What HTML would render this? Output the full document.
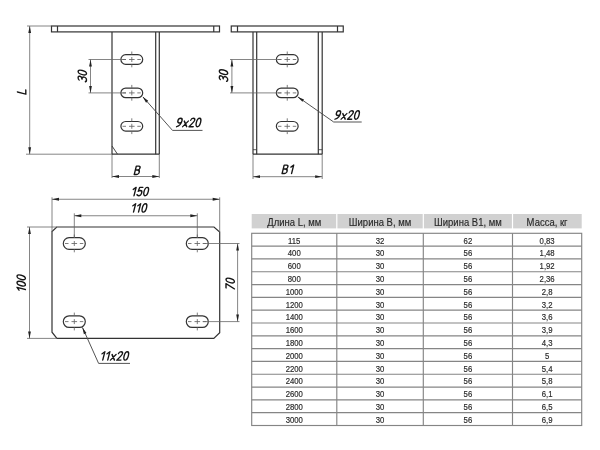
<!DOCTYPE html>
<html><head><meta charset="utf-8"><style>
html,body{margin:0;padding:0;background:#fff;width:600px;height:450px;overflow:hidden}
svg{display:block;font-family:"Liberation Sans",sans-serif;filter:blur(0.3px)}
</style></head><body>
<svg width="600" height="450" viewBox="0 0 600 450">
<g>
<rect x="51.5" y="26" width="168" height="5.9" rx="0" stroke="#333" stroke-width="1.2" fill="none"/>
<line x1="57.5" y1="26" x2="57.5" y2="31.9" stroke="#333" stroke-width="1.2" />
<line x1="213.75" y1="26" x2="213.75" y2="31.9" stroke="#333" stroke-width="1.2" />
<line x1="112" y1="31.9" x2="112" y2="154.2" stroke="#333" stroke-width="1.2" />
<line x1="112" y1="154.2" x2="112" y2="178" stroke="#666" stroke-width="0.8" />
<line x1="155.7" y1="31.9" x2="155.7" y2="154.2" stroke="#333" stroke-width="1.2" />
<line x1="159.3" y1="31.9" x2="159.3" y2="154.2" stroke="#333" stroke-width="1.2" />
<line x1="159.3" y1="154.2" x2="159.3" y2="178" stroke="#666" stroke-width="0.8" />
<line x1="112" y1="154.2" x2="159.3" y2="154.2" stroke="#333" stroke-width="1.2" />
<line x1="112" y1="146" x2="117.5" y2="154.2" stroke="#333" stroke-width="0.9" />
<rect x="120.9" y="54.7" width="21.8" height="9.6" rx="4.8" stroke="#333" stroke-width="1.2" fill="none"/>
<line x1="122.5" y1="59.5" x2="126" y2="59.5" stroke="#666" stroke-width="0.85" />
<line x1="137.3" y1="59.5" x2="140.8" y2="59.5" stroke="#666" stroke-width="0.85" />
<line x1="129" y1="59.5" x2="134.6" y2="59.5" stroke="#666" stroke-width="0.85" />
<line x1="131.8" y1="57" x2="131.8" y2="62" stroke="#666" stroke-width="0.85" />
<line x1="131.8" y1="51.5" x2="131.8" y2="54.7" stroke="#666" stroke-width="0.85" />
<line x1="131.8" y1="64.3" x2="131.8" y2="67.3" stroke="#666" stroke-width="0.85" />
<rect x="120.9" y="88.1" width="21.8" height="9.6" rx="4.8" stroke="#333" stroke-width="1.2" fill="none"/>
<line x1="122.5" y1="92.9" x2="126" y2="92.9" stroke="#666" stroke-width="0.85" />
<line x1="137.3" y1="92.9" x2="140.8" y2="92.9" stroke="#666" stroke-width="0.85" />
<line x1="129" y1="92.9" x2="134.6" y2="92.9" stroke="#666" stroke-width="0.85" />
<line x1="131.8" y1="90.4" x2="131.8" y2="95.4" stroke="#666" stroke-width="0.85" />
<line x1="131.8" y1="84.9" x2="131.8" y2="88.1" stroke="#666" stroke-width="0.85" />
<line x1="131.8" y1="97.7" x2="131.8" y2="100.7" stroke="#666" stroke-width="0.85" />
<rect x="120.9" y="121.5" width="21.8" height="9.6" rx="4.8" stroke="#333" stroke-width="1.2" fill="none"/>
<line x1="122.5" y1="126.3" x2="126" y2="126.3" stroke="#666" stroke-width="0.85" />
<line x1="137.3" y1="126.3" x2="140.8" y2="126.3" stroke="#666" stroke-width="0.85" />
<line x1="129" y1="126.3" x2="134.6" y2="126.3" stroke="#666" stroke-width="0.85" />
<line x1="131.8" y1="123.8" x2="131.8" y2="128.8" stroke="#666" stroke-width="0.85" />
<line x1="131.8" y1="118.3" x2="131.8" y2="121.5" stroke="#666" stroke-width="0.85" />
<line x1="131.8" y1="131.1" x2="131.8" y2="134.1" stroke="#666" stroke-width="0.85" />
<line x1="88.5" y1="59.5" x2="126" y2="59.5" stroke="#666" stroke-width="0.8" />
<line x1="88.5" y1="92.9" x2="126" y2="92.9" stroke="#666" stroke-width="0.8" />
<line x1="90.5" y1="59.5" x2="90.5" y2="92.9" stroke="#666" stroke-width="0.8" />
<path d="M90.50 59.50 L91.90 66.50 L89.10 66.50 Z" fill="#222"/>
<path d="M90.50 92.90 L89.10 85.90 L91.90 85.90 Z" fill="#222"/>
<g class="gt" transform="translate(82.3 75.7) rotate(-90) scale(1.0 1) translate(-6.30 4.20) skewX(-14.04)" fill="none" stroke="#151515" stroke-width="1.4" stroke-linecap="round" stroke-linejoin="round"><path transform="translate(0.00 0)" d="M0.2 -7.4 C0.5 -8 1.2 -8.4 2.1 -8.4 C3.3 -8.4 4.1 -7.7 4.1 -6.5 C4.1 -5.3 3.2 -4.6 1.7 -4.6 C3.3 -4.6 4.3 -3.6 4.3 -2.3 C4.3 -0.9 3.3 0 2 0 C1.1 0 0.4 -0.4 0 -1.1"/><path transform="translate(6.30 0)" d="M2.1 -8.4 C3.3 -8.4 4.2 -6.5 4.2 -4.2 C4.2 -1.9 3.3 0 2.1 0 C0.9 0 0 -1.9 0 -4.2 C0 -6.5 0.9 -8.4 2.1 -8.4 Z"/></g>
<line x1="27" y1="26" x2="51.5" y2="26" stroke="#666" stroke-width="0.8" />
<line x1="26" y1="154.2" x2="112" y2="154.2" stroke="#666" stroke-width="0.8" />
<line x1="29.7" y1="26" x2="29.7" y2="154.2" stroke="#666" stroke-width="0.8" />
<path d="M29.70 26.00 L31.10 33.00 L28.30 33.00 Z" fill="#222"/>
<path d="M29.70 154.20 L28.30 147.20 L31.10 147.20 Z" fill="#222"/>
<g class="gt" transform="translate(21.6 91.0) rotate(-90) scale(1.0 1) translate(-3.15 4.20) skewX(-14.04)" fill="none" stroke="#151515" stroke-width="1.4" stroke-linecap="round" stroke-linejoin="round"><path transform="translate(0.00 0)" d="M0 -8.4 L0 0 L4.2 0"/></g>
<line x1="112" y1="176.5" x2="159.3" y2="176.5" stroke="#666" stroke-width="0.8" />
<path d="M112.00 176.50 L119.00 175.10 L119.00 177.90 Z" fill="#222"/>
<path d="M159.30 176.50 L152.30 177.90 L152.30 175.10 Z" fill="#222"/>
<g class="gt" transform="translate(137.6 170.3) rotate(0) scale(1.0 1) translate(-3.35 4.20) skewX(-14.04)" fill="none" stroke="#151515" stroke-width="1.4" stroke-linecap="round" stroke-linejoin="round"><path transform="translate(0.00 0)" d="M0 0 L0 -8.4 L2.4 -8.4 C3.5 -8.4 4.1 -7.7 4.1 -6.6 C4.1 -5.5 3.4 -4.5 2.2 -4.5 L0 -4.5 M2.2 -4.5 C3.6 -4.5 4.4 -3.6 4.4 -2.3 C4.4 -0.9 3.5 0 2.2 0 L0 0"/></g>
<line x1="143" y1="97" x2="172.5" y2="130.4" stroke="#4a4a4a" stroke-width="0.95" />
<line x1="172.5" y1="130.4" x2="202.5" y2="130.4" stroke="#4a4a4a" stroke-width="0.95" />
<path d="M142.50 96.50 L148.18 100.83 L146.08 102.68 Z" fill="#222"/>
<g class="gt" transform="translate(189.0 122.5) rotate(0) scale(1.0 1) translate(-12.60 4.20) skewX(-14.04)" fill="none" stroke="#151515" stroke-width="1.4" stroke-linecap="round" stroke-linejoin="round"><path transform="translate(0.00 0)" d="M4.1 -6 C4.1 -4.6 3.2 -3.7 2.1 -3.7 C0.9 -3.7 0 -4.6 0 -6 C0 -7.4 0.9 -8.4 2.1 -8.4 C3.3 -8.4 4.1 -7.5 4.1 -6 C4.1 -3 2.6 -0.8 0.2 0"/><path transform="translate(6.30 0)" d="M0.2 -5.6 L4 0 M4.2 -5.6 L0 0"/><path transform="translate(12.60 0)" d="M0.1 -6.5 C0.2 -7.7 1 -8.4 2.1 -8.4 C3.3 -8.4 4.1 -7.6 4.1 -6.4 C4.1 -5.3 3.4 -4.3 0 0 L4.2 0"/><path transform="translate(18.90 0)" d="M2.1 -8.4 C3.3 -8.4 4.2 -6.5 4.2 -4.2 C4.2 -1.9 3.3 0 2.1 0 C0.9 0 0 -1.9 0 -4.2 C0 -6.5 0.9 -8.4 2.1 -8.4 Z"/></g>
<rect x="231.25" y="26" width="112" height="5.9" rx="0" stroke="#333" stroke-width="1.2" fill="none"/>
<line x1="237.5" y1="26" x2="237.5" y2="31.9" stroke="#333" stroke-width="1.2" />
<line x1="337.5" y1="26" x2="337.5" y2="31.9" stroke="#333" stroke-width="1.2" />
<line x1="253" y1="31.9" x2="253" y2="154.2" stroke="#333" stroke-width="1.2" />
<line x1="253" y1="154.2" x2="253" y2="179" stroke="#666" stroke-width="0.8" />
<line x1="256.7" y1="31.9" x2="256.7" y2="154.2" stroke="#333" stroke-width="1.2" />
<line x1="318.3" y1="31.9" x2="318.3" y2="154.2" stroke="#333" stroke-width="1.2" />
<line x1="322.2" y1="31.9" x2="322.2" y2="154.2" stroke="#333" stroke-width="1.2" />
<line x1="322.2" y1="154.2" x2="322.2" y2="179" stroke="#666" stroke-width="0.8" />
<line x1="253" y1="154.2" x2="322.2" y2="154.2" stroke="#333" stroke-width="1.2" />
<line x1="253" y1="149.7" x2="256.7" y2="149.7" stroke="#333" stroke-width="0.8" />
<line x1="318.3" y1="149.7" x2="322.2" y2="149.7" stroke="#333" stroke-width="0.8" />
<rect x="276.35" y="54.7" width="21.8" height="9.6" rx="4.8" stroke="#333" stroke-width="1.2" fill="none"/>
<line x1="277.95" y1="59.5" x2="281.45" y2="59.5" stroke="#666" stroke-width="0.85" />
<line x1="292.75" y1="59.5" x2="296.25" y2="59.5" stroke="#666" stroke-width="0.85" />
<line x1="284.45" y1="59.5" x2="290.05" y2="59.5" stroke="#666" stroke-width="0.85" />
<line x1="287.25" y1="57" x2="287.25" y2="62" stroke="#666" stroke-width="0.85" />
<line x1="287.25" y1="51.5" x2="287.25" y2="54.7" stroke="#666" stroke-width="0.85" />
<line x1="287.25" y1="64.3" x2="287.25" y2="67.3" stroke="#666" stroke-width="0.85" />
<rect x="276.35" y="88.1" width="21.8" height="9.6" rx="4.8" stroke="#333" stroke-width="1.2" fill="none"/>
<line x1="277.95" y1="92.9" x2="281.45" y2="92.9" stroke="#666" stroke-width="0.85" />
<line x1="292.75" y1="92.9" x2="296.25" y2="92.9" stroke="#666" stroke-width="0.85" />
<line x1="284.45" y1="92.9" x2="290.05" y2="92.9" stroke="#666" stroke-width="0.85" />
<line x1="287.25" y1="90.4" x2="287.25" y2="95.4" stroke="#666" stroke-width="0.85" />
<line x1="287.25" y1="84.9" x2="287.25" y2="88.1" stroke="#666" stroke-width="0.85" />
<line x1="287.25" y1="97.7" x2="287.25" y2="100.7" stroke="#666" stroke-width="0.85" />
<rect x="276.35" y="121.5" width="21.8" height="9.6" rx="4.8" stroke="#333" stroke-width="1.2" fill="none"/>
<line x1="277.95" y1="126.3" x2="281.45" y2="126.3" stroke="#666" stroke-width="0.85" />
<line x1="292.75" y1="126.3" x2="296.25" y2="126.3" stroke="#666" stroke-width="0.85" />
<line x1="284.45" y1="126.3" x2="290.05" y2="126.3" stroke="#666" stroke-width="0.85" />
<line x1="287.25" y1="123.8" x2="287.25" y2="128.8" stroke="#666" stroke-width="0.85" />
<line x1="287.25" y1="118.3" x2="287.25" y2="121.5" stroke="#666" stroke-width="0.85" />
<line x1="287.25" y1="131.1" x2="287.25" y2="134.1" stroke="#666" stroke-width="0.85" />
<line x1="230" y1="59.5" x2="281.4" y2="59.5" stroke="#666" stroke-width="0.8" />
<line x1="230" y1="92.9" x2="281.4" y2="92.9" stroke="#666" stroke-width="0.8" />
<line x1="231.9" y1="59.5" x2="231.9" y2="92.9" stroke="#666" stroke-width="0.8" />
<path d="M231.90 59.50 L233.30 66.50 L230.50 66.50 Z" fill="#222"/>
<path d="M231.90 92.90 L230.50 85.90 L233.30 85.90 Z" fill="#222"/>
<g class="gt" transform="translate(223.5 75.3) rotate(-90) scale(1.0 1) translate(-6.30 4.20) skewX(-14.04)" fill="none" stroke="#151515" stroke-width="1.4" stroke-linecap="round" stroke-linejoin="round"><path transform="translate(0.00 0)" d="M0.2 -7.4 C0.5 -8 1.2 -8.4 2.1 -8.4 C3.3 -8.4 4.1 -7.7 4.1 -6.5 C4.1 -5.3 3.2 -4.6 1.7 -4.6 C3.3 -4.6 4.3 -3.6 4.3 -2.3 C4.3 -0.9 3.3 0 2 0 C1.1 0 0.4 -0.4 0 -1.1"/><path transform="translate(6.30 0)" d="M2.1 -8.4 C3.3 -8.4 4.2 -6.5 4.2 -4.2 C4.2 -1.9 3.3 0 2.1 0 C0.9 0 0 -1.9 0 -4.2 C0 -6.5 0.9 -8.4 2.1 -8.4 Z"/></g>
<line x1="298" y1="97" x2="333.7" y2="122" stroke="#4a4a4a" stroke-width="0.95" />
<line x1="333.7" y1="122" x2="361.7" y2="122" stroke="#4a4a4a" stroke-width="0.95" />
<path d="M297.50 96.70 L304.04 99.57 L302.43 101.86 Z" fill="#222"/>
<g class="gt" transform="translate(347.5 115.0) rotate(0) scale(1.0 1) translate(-12.60 4.20) skewX(-14.04)" fill="none" stroke="#151515" stroke-width="1.4" stroke-linecap="round" stroke-linejoin="round"><path transform="translate(0.00 0)" d="M4.1 -6 C4.1 -4.6 3.2 -3.7 2.1 -3.7 C0.9 -3.7 0 -4.6 0 -6 C0 -7.4 0.9 -8.4 2.1 -8.4 C3.3 -8.4 4.1 -7.5 4.1 -6 C4.1 -3 2.6 -0.8 0.2 0"/><path transform="translate(6.30 0)" d="M0.2 -5.6 L4 0 M4.2 -5.6 L0 0"/><path transform="translate(12.60 0)" d="M0.1 -6.5 C0.2 -7.7 1 -8.4 2.1 -8.4 C3.3 -8.4 4.1 -7.6 4.1 -6.4 C4.1 -5.3 3.4 -4.3 0 0 L4.2 0"/><path transform="translate(18.90 0)" d="M2.1 -8.4 C3.3 -8.4 4.2 -6.5 4.2 -4.2 C4.2 -1.9 3.3 0 2.1 0 C0.9 0 0 -1.9 0 -4.2 C0 -6.5 0.9 -8.4 2.1 -8.4 Z"/></g>
<line x1="253" y1="176.7" x2="322.2" y2="176.7" stroke="#666" stroke-width="0.8" />
<path d="M253.00 176.70 L260.00 175.30 L260.00 178.10 Z" fill="#222"/>
<path d="M322.20 176.70 L315.20 178.10 L315.20 175.30 Z" fill="#222"/>
<g class="gt" transform="translate(287.9 169.3) rotate(0) scale(1.0 1) translate(-5.80 4.20) skewX(-14.04)" fill="none" stroke="#151515" stroke-width="1.4" stroke-linecap="round" stroke-linejoin="round"><path transform="translate(0.00 0)" d="M0 0 L0 -8.4 L2.4 -8.4 C3.5 -8.4 4.1 -7.7 4.1 -6.6 C4.1 -5.5 3.4 -4.5 2.2 -4.5 L0 -4.5 M2.2 -4.5 C3.6 -4.5 4.4 -3.6 4.4 -2.3 C4.4 -0.9 3.5 0 2.2 0 L0 0"/><path transform="translate(7.20 0)" d="M0 -6.4 L2.3 -8.4 L2.3 0"/></g>
<path d="M56.8 227 L214 227 L219.7 232 L219.7 332.7 L213.8 338.4 L56.9 338.4 L52 332.2 L52 231.5 Z" stroke="#333" stroke-width="1.2" fill="none"/>
<rect x="63.3" y="237.7" width="22" height="11.6" rx="5.8" stroke="#333" stroke-width="1.2" fill="none"/>
<line x1="65" y1="243.5" x2="68.5" y2="243.5" stroke="#666" stroke-width="0.85" />
<line x1="79.8" y1="243.5" x2="83.3" y2="243.5" stroke="#666" stroke-width="0.85" />
<line x1="71.5" y1="243.5" x2="77.1" y2="243.5" stroke="#666" stroke-width="0.85" />
<line x1="74.3" y1="241" x2="74.3" y2="246" stroke="#666" stroke-width="0.85" />
<line x1="74.3" y1="234.5" x2="74.3" y2="237.7" stroke="#666" stroke-width="0.85" />
<line x1="74.3" y1="249.3" x2="74.3" y2="252.3" stroke="#666" stroke-width="0.85" />
<rect x="63.3" y="315.8" width="22" height="11.6" rx="5.8" stroke="#333" stroke-width="1.2" fill="none"/>
<line x1="65" y1="321.6" x2="68.5" y2="321.6" stroke="#666" stroke-width="0.85" />
<line x1="79.8" y1="321.6" x2="83.3" y2="321.6" stroke="#666" stroke-width="0.85" />
<line x1="71.5" y1="321.6" x2="77.1" y2="321.6" stroke="#666" stroke-width="0.85" />
<line x1="74.3" y1="319.1" x2="74.3" y2="324.1" stroke="#666" stroke-width="0.85" />
<line x1="74.3" y1="312.6" x2="74.3" y2="315.8" stroke="#666" stroke-width="0.85" />
<line x1="74.3" y1="327.4" x2="74.3" y2="330.4" stroke="#666" stroke-width="0.85" />
<rect x="186.3" y="237.7" width="22" height="11.6" rx="5.8" stroke="#333" stroke-width="1.2" fill="none"/>
<line x1="188" y1="243.5" x2="191.5" y2="243.5" stroke="#666" stroke-width="0.85" />
<line x1="202.8" y1="243.5" x2="206.3" y2="243.5" stroke="#666" stroke-width="0.85" />
<line x1="194.5" y1="243.5" x2="200.1" y2="243.5" stroke="#666" stroke-width="0.85" />
<line x1="197.3" y1="241" x2="197.3" y2="246" stroke="#666" stroke-width="0.85" />
<line x1="197.3" y1="234.5" x2="197.3" y2="237.7" stroke="#666" stroke-width="0.85" />
<line x1="197.3" y1="249.3" x2="197.3" y2="252.3" stroke="#666" stroke-width="0.85" />
<rect x="186.3" y="315.8" width="22" height="11.6" rx="5.8" stroke="#333" stroke-width="1.2" fill="none"/>
<line x1="188" y1="321.6" x2="191.5" y2="321.6" stroke="#666" stroke-width="0.85" />
<line x1="202.8" y1="321.6" x2="206.3" y2="321.6" stroke="#666" stroke-width="0.85" />
<line x1="194.5" y1="321.6" x2="200.1" y2="321.6" stroke="#666" stroke-width="0.85" />
<line x1="197.3" y1="319.1" x2="197.3" y2="324.1" stroke="#666" stroke-width="0.85" />
<line x1="197.3" y1="312.6" x2="197.3" y2="315.8" stroke="#666" stroke-width="0.85" />
<line x1="197.3" y1="327.4" x2="197.3" y2="330.4" stroke="#666" stroke-width="0.85" />
<line x1="52" y1="197.3" x2="52" y2="232" stroke="#666" stroke-width="0.8" />
<line x1="219.7" y1="197.3" x2="219.7" y2="232" stroke="#666" stroke-width="0.8" />
<line x1="52" y1="199.25" x2="219.7" y2="199.25" stroke="#666" stroke-width="0.8" />
<path d="M52.00 199.25 L59.00 197.85 L59.00 200.65 Z" fill="#222"/>
<path d="M219.70 199.25 L212.70 200.65 L212.70 197.85 Z" fill="#222"/>
<g class="gt" transform="translate(140.5 191.6) rotate(0) scale(1.0 1) translate(-8.80 4.20) skewX(-14.04)" fill="none" stroke="#151515" stroke-width="1.4" stroke-linecap="round" stroke-linejoin="round"><path transform="translate(0.00 0)" d="M0 -6.4 L2.3 -8.4 L2.3 0"/><path transform="translate(5.00 0)" d="M4 -8.4 L0.9 -8.4 L0.4 -4.5 C0.9 -5 1.5 -5.3 2.2 -5.3 C3.5 -5.3 4.3 -4.3 4.3 -2.7 C4.3 -1 3.4 0 2.1 0 C1.1 0 0.4 -0.4 0 -1.1"/><path transform="translate(11.30 0)" d="M2.1 -8.4 C3.3 -8.4 4.2 -6.5 4.2 -4.2 C4.2 -1.9 3.3 0 2.1 0 C0.9 0 0 -1.9 0 -4.2 C0 -6.5 0.9 -8.4 2.1 -8.4 Z"/></g>
<line x1="74.3" y1="213.3" x2="74.3" y2="237.7" stroke="#666" stroke-width="0.8" />
<line x1="197.3" y1="213.3" x2="197.3" y2="237.7" stroke="#666" stroke-width="0.8" />
<line x1="74.3" y1="215.75" x2="197.3" y2="215.75" stroke="#666" stroke-width="0.8" />
<path d="M74.30 215.75 L81.30 214.35 L81.30 217.15 Z" fill="#222"/>
<path d="M197.30 215.75 L190.30 217.15 L190.30 214.35 Z" fill="#222"/>
<g class="gt" transform="translate(139.4 207.9) rotate(0) scale(1.0 1) translate(-8.15 4.20) skewX(-14.04)" fill="none" stroke="#151515" stroke-width="1.4" stroke-linecap="round" stroke-linejoin="round"><path transform="translate(0.00 0)" d="M0 -6.4 L2.3 -8.4 L2.3 0"/><path transform="translate(5.00 0)" d="M0 -6.4 L2.3 -8.4 L2.3 0"/><path transform="translate(10.00 0)" d="M2.1 -8.4 C3.3 -8.4 4.2 -6.5 4.2 -4.2 C4.2 -1.9 3.3 0 2.1 0 C0.9 0 0 -1.9 0 -4.2 C0 -6.5 0.9 -8.4 2.1 -8.4 Z"/></g>
<line x1="27" y1="227" x2="57" y2="227" stroke="#666" stroke-width="0.8" />
<line x1="27" y1="338.4" x2="57" y2="338.4" stroke="#666" stroke-width="0.8" />
<line x1="29.5" y1="227" x2="29.5" y2="338.4" stroke="#666" stroke-width="0.8" />
<path d="M29.50 227.00 L30.90 234.00 L28.10 234.00 Z" fill="#222"/>
<path d="M29.50 338.40 L28.10 331.40 L30.90 331.40 Z" fill="#222"/>
<g class="gt" transform="translate(21.2 283.0) rotate(-90) scale(1.0 1) translate(-8.80 4.20) skewX(-14.04)" fill="none" stroke="#151515" stroke-width="1.4" stroke-linecap="round" stroke-linejoin="round"><path transform="translate(0.00 0)" d="M0 -6.4 L2.3 -8.4 L2.3 0"/><path transform="translate(5.00 0)" d="M2.1 -8.4 C3.3 -8.4 4.2 -6.5 4.2 -4.2 C4.2 -1.9 3.3 0 2.1 0 C0.9 0 0 -1.9 0 -4.2 C0 -6.5 0.9 -8.4 2.1 -8.4 Z"/><path transform="translate(11.30 0)" d="M2.1 -8.4 C3.3 -8.4 4.2 -6.5 4.2 -4.2 C4.2 -1.9 3.3 0 2.1 0 C0.9 0 0 -1.9 0 -4.2 C0 -6.5 0.9 -8.4 2.1 -8.4 Z"/></g>
<line x1="202.8" y1="243.5" x2="239.5" y2="243.5" stroke="#666" stroke-width="0.8" />
<line x1="202.8" y1="321.6" x2="239.5" y2="321.6" stroke="#666" stroke-width="0.8" />
<line x1="237.6" y1="243.5" x2="237.6" y2="321.6" stroke="#666" stroke-width="0.8" />
<path d="M237.60 243.50 L239.00 250.50 L236.20 250.50 Z" fill="#222"/>
<path d="M237.60 321.60 L236.20 314.60 L239.00 314.60 Z" fill="#222"/>
<g class="gt" transform="translate(230.2 283.7) rotate(-90) scale(1.0 1) translate(-6.30 4.20) skewX(-14.04)" fill="none" stroke="#151515" stroke-width="1.4" stroke-linecap="round" stroke-linejoin="round"><path transform="translate(0.00 0)" d="M0 -8.4 L4.2 -8.4 L1.2 0"/><path transform="translate(6.30 0)" d="M2.1 -8.4 C3.3 -8.4 4.2 -6.5 4.2 -4.2 C4.2 -1.9 3.3 0 2.1 0 C0.9 0 0 -1.9 0 -4.2 C0 -6.5 0.9 -8.4 2.1 -8.4 Z"/></g>
<line x1="82.5" y1="327.5" x2="98.6" y2="363.4" stroke="#4a4a4a" stroke-width="0.95" />
<line x1="98.6" y1="363.4" x2="130" y2="363.4" stroke="#4a4a4a" stroke-width="0.95" />
<path d="M82.30 327.20 L86.45 333.01 L83.90 334.16 Z" fill="#222"/>
<g class="gt" transform="translate(114.9 355.9) rotate(0) scale(1.0 1) translate(-14.45 4.20) skewX(-14.04)" fill="none" stroke="#151515" stroke-width="1.4" stroke-linecap="round" stroke-linejoin="round"><path transform="translate(0.00 0)" d="M0 -6.4 L2.3 -8.4 L2.3 0"/><path transform="translate(5.00 0)" d="M0 -6.4 L2.3 -8.4 L2.3 0"/><path transform="translate(10.00 0)" d="M0.2 -5.6 L4 0 M4.2 -5.6 L0 0"/><path transform="translate(16.30 0)" d="M0.1 -6.5 C0.2 -7.7 1 -8.4 2.1 -8.4 C3.3 -8.4 4.1 -7.6 4.1 -6.4 C4.1 -5.3 3.4 -4.3 0 0 L4.2 0"/><path transform="translate(22.60 0)" d="M2.1 -8.4 C3.3 -8.4 4.2 -6.5 4.2 -4.2 C4.2 -1.9 3.3 0 2.1 0 C0.9 0 0 -1.9 0 -4.2 C0 -6.5 0.9 -8.4 2.1 -8.4 Z"/></g>
</g>
<g>
<rect x="251.7" y="214.0" width="84.5" height="14.4" fill="#d1d1d1"/>
<text x="0" y="0" font-size="10" text-anchor="middle" dominant-baseline="central" fill="#2a2a2a" stroke="#2a2a2a" stroke-width="0.15" transform="translate(294.25 222.5) scale(0.95 1)">Длина L, мм</text>
<rect x="337.40000000000003" y="214.0" width="85.29999999999995" height="14.4" fill="#d1d1d1"/>
<text x="0" y="0" font-size="10" text-anchor="middle" dominant-baseline="central" fill="#2a2a2a" stroke="#2a2a2a" stroke-width="0.15" transform="translate(380.05 222.5) scale(0.95 1)">Ширина B, мм</text>
<rect x="423.90000000000003" y="214.0" width="87.99999999999994" height="14.4" fill="#d1d1d1"/>
<text x="0" y="0" font-size="10" text-anchor="middle" dominant-baseline="central" fill="#2a2a2a" stroke="#2a2a2a" stroke-width="0.15" transform="translate(467.90 222.5) scale(0.95 1)">Ширина B1, мм</text>
<rect x="513.1" y="214.0" width="68.60000000000002" height="14.4" fill="#d1d1d1"/>
<text x="0" y="0" font-size="10" text-anchor="middle" dominant-baseline="central" fill="#2a2a2a" stroke="#2a2a2a" stroke-width="0.15" transform="translate(547.10 222.5) scale(0.95 1)">Масса, кг</text>
<rect x="251.7" y="233.3" width="330.00000000000006" height="192.2" fill="none" stroke="#858585" stroke-width="1.15"/>
<line x1="336.8" y1="233.3" x2="336.8" y2="425.5" stroke="#858585" stroke-width="1.15"/>
<line x1="423.3" y1="233.3" x2="423.3" y2="425.5" stroke="#858585" stroke-width="1.15"/>
<line x1="512.5" y1="233.3" x2="512.5" y2="425.5" stroke="#858585" stroke-width="1.15"/>
<line x1="251.7" y1="246.11" x2="581.7" y2="246.11" stroke="#858585" stroke-width="1.15"/>
<line x1="251.7" y1="258.93" x2="581.7" y2="258.93" stroke="#858585" stroke-width="1.15"/>
<line x1="251.7" y1="271.74" x2="581.7" y2="271.74" stroke="#858585" stroke-width="1.15"/>
<line x1="251.7" y1="284.55" x2="581.7" y2="284.55" stroke="#858585" stroke-width="1.15"/>
<line x1="251.7" y1="297.37" x2="581.7" y2="297.37" stroke="#858585" stroke-width="1.15"/>
<line x1="251.7" y1="310.18" x2="581.7" y2="310.18" stroke="#858585" stroke-width="1.15"/>
<line x1="251.7" y1="322.99" x2="581.7" y2="322.99" stroke="#858585" stroke-width="1.15"/>
<line x1="251.7" y1="335.81" x2="581.7" y2="335.81" stroke="#858585" stroke-width="1.15"/>
<line x1="251.7" y1="348.62" x2="581.7" y2="348.62" stroke="#858585" stroke-width="1.15"/>
<line x1="251.7" y1="361.43" x2="581.7" y2="361.43" stroke="#858585" stroke-width="1.15"/>
<line x1="251.7" y1="374.25" x2="581.7" y2="374.25" stroke="#858585" stroke-width="1.15"/>
<line x1="251.7" y1="387.06" x2="581.7" y2="387.06" stroke="#858585" stroke-width="1.15"/>
<line x1="251.7" y1="399.87" x2="581.7" y2="399.87" stroke="#858585" stroke-width="1.15"/>
<line x1="251.7" y1="412.69" x2="581.7" y2="412.69" stroke="#858585" stroke-width="1.15"/>
<text x="0" y="0" font-size="8.6" text-anchor="middle" dominant-baseline="central" fill="#2a2a2a" stroke="#2a2a2a" stroke-width="0.18" transform="translate(294.25 240.91) scale(0.9 1)">115</text>
<text x="0" y="0" font-size="8.6" text-anchor="middle" dominant-baseline="central" fill="#2a2a2a" stroke="#2a2a2a" stroke-width="0.18" transform="translate(380.05 240.91) scale(0.9 1)">32</text>
<text x="0" y="0" font-size="8.6" text-anchor="middle" dominant-baseline="central" fill="#2a2a2a" stroke="#2a2a2a" stroke-width="0.18" transform="translate(467.90 240.91) scale(0.9 1)">62</text>
<text x="0" y="0" font-size="8.6" text-anchor="middle" dominant-baseline="central" fill="#2a2a2a" stroke="#2a2a2a" stroke-width="0.18" transform="translate(547.10 240.91) scale(0.9 1)">0,83</text>
<text x="0" y="0" font-size="8.6" text-anchor="middle" dominant-baseline="central" fill="#2a2a2a" stroke="#2a2a2a" stroke-width="0.18" transform="translate(294.25 253.72) scale(0.9 1)">400</text>
<text x="0" y="0" font-size="8.6" text-anchor="middle" dominant-baseline="central" fill="#2a2a2a" stroke="#2a2a2a" stroke-width="0.18" transform="translate(380.05 253.72) scale(0.9 1)">30</text>
<text x="0" y="0" font-size="8.6" text-anchor="middle" dominant-baseline="central" fill="#2a2a2a" stroke="#2a2a2a" stroke-width="0.18" transform="translate(467.90 253.72) scale(0.9 1)">56</text>
<text x="0" y="0" font-size="8.6" text-anchor="middle" dominant-baseline="central" fill="#2a2a2a" stroke="#2a2a2a" stroke-width="0.18" transform="translate(547.10 253.72) scale(0.9 1)">1,48</text>
<text x="0" y="0" font-size="8.6" text-anchor="middle" dominant-baseline="central" fill="#2a2a2a" stroke="#2a2a2a" stroke-width="0.18" transform="translate(294.25 266.53) scale(0.9 1)">600</text>
<text x="0" y="0" font-size="8.6" text-anchor="middle" dominant-baseline="central" fill="#2a2a2a" stroke="#2a2a2a" stroke-width="0.18" transform="translate(380.05 266.53) scale(0.9 1)">30</text>
<text x="0" y="0" font-size="8.6" text-anchor="middle" dominant-baseline="central" fill="#2a2a2a" stroke="#2a2a2a" stroke-width="0.18" transform="translate(467.90 266.53) scale(0.9 1)">56</text>
<text x="0" y="0" font-size="8.6" text-anchor="middle" dominant-baseline="central" fill="#2a2a2a" stroke="#2a2a2a" stroke-width="0.18" transform="translate(547.10 266.53) scale(0.9 1)">1,92</text>
<text x="0" y="0" font-size="8.6" text-anchor="middle" dominant-baseline="central" fill="#2a2a2a" stroke="#2a2a2a" stroke-width="0.18" transform="translate(294.25 279.35) scale(0.9 1)">800</text>
<text x="0" y="0" font-size="8.6" text-anchor="middle" dominant-baseline="central" fill="#2a2a2a" stroke="#2a2a2a" stroke-width="0.18" transform="translate(380.05 279.35) scale(0.9 1)">30</text>
<text x="0" y="0" font-size="8.6" text-anchor="middle" dominant-baseline="central" fill="#2a2a2a" stroke="#2a2a2a" stroke-width="0.18" transform="translate(467.90 279.35) scale(0.9 1)">56</text>
<text x="0" y="0" font-size="8.6" text-anchor="middle" dominant-baseline="central" fill="#2a2a2a" stroke="#2a2a2a" stroke-width="0.18" transform="translate(547.10 279.35) scale(0.9 1)">2,36</text>
<text x="0" y="0" font-size="8.6" text-anchor="middle" dominant-baseline="central" fill="#2a2a2a" stroke="#2a2a2a" stroke-width="0.18" transform="translate(294.25 292.16) scale(0.9 1)">1000</text>
<text x="0" y="0" font-size="8.6" text-anchor="middle" dominant-baseline="central" fill="#2a2a2a" stroke="#2a2a2a" stroke-width="0.18" transform="translate(380.05 292.16) scale(0.9 1)">30</text>
<text x="0" y="0" font-size="8.6" text-anchor="middle" dominant-baseline="central" fill="#2a2a2a" stroke="#2a2a2a" stroke-width="0.18" transform="translate(467.90 292.16) scale(0.9 1)">56</text>
<text x="0" y="0" font-size="8.6" text-anchor="middle" dominant-baseline="central" fill="#2a2a2a" stroke="#2a2a2a" stroke-width="0.18" transform="translate(547.10 292.16) scale(0.9 1)">2,8</text>
<text x="0" y="0" font-size="8.6" text-anchor="middle" dominant-baseline="central" fill="#2a2a2a" stroke="#2a2a2a" stroke-width="0.18" transform="translate(294.25 304.97) scale(0.9 1)">1200</text>
<text x="0" y="0" font-size="8.6" text-anchor="middle" dominant-baseline="central" fill="#2a2a2a" stroke="#2a2a2a" stroke-width="0.18" transform="translate(380.05 304.97) scale(0.9 1)">30</text>
<text x="0" y="0" font-size="8.6" text-anchor="middle" dominant-baseline="central" fill="#2a2a2a" stroke="#2a2a2a" stroke-width="0.18" transform="translate(467.90 304.97) scale(0.9 1)">56</text>
<text x="0" y="0" font-size="8.6" text-anchor="middle" dominant-baseline="central" fill="#2a2a2a" stroke="#2a2a2a" stroke-width="0.18" transform="translate(547.10 304.97) scale(0.9 1)">3,2</text>
<text x="0" y="0" font-size="8.6" text-anchor="middle" dominant-baseline="central" fill="#2a2a2a" stroke="#2a2a2a" stroke-width="0.18" transform="translate(294.25 317.79) scale(0.9 1)">1400</text>
<text x="0" y="0" font-size="8.6" text-anchor="middle" dominant-baseline="central" fill="#2a2a2a" stroke="#2a2a2a" stroke-width="0.18" transform="translate(380.05 317.79) scale(0.9 1)">30</text>
<text x="0" y="0" font-size="8.6" text-anchor="middle" dominant-baseline="central" fill="#2a2a2a" stroke="#2a2a2a" stroke-width="0.18" transform="translate(467.90 317.79) scale(0.9 1)">56</text>
<text x="0" y="0" font-size="8.6" text-anchor="middle" dominant-baseline="central" fill="#2a2a2a" stroke="#2a2a2a" stroke-width="0.18" transform="translate(547.10 317.79) scale(0.9 1)">3,6</text>
<text x="0" y="0" font-size="8.6" text-anchor="middle" dominant-baseline="central" fill="#2a2a2a" stroke="#2a2a2a" stroke-width="0.18" transform="translate(294.25 330.60) scale(0.9 1)">1600</text>
<text x="0" y="0" font-size="8.6" text-anchor="middle" dominant-baseline="central" fill="#2a2a2a" stroke="#2a2a2a" stroke-width="0.18" transform="translate(380.05 330.60) scale(0.9 1)">30</text>
<text x="0" y="0" font-size="8.6" text-anchor="middle" dominant-baseline="central" fill="#2a2a2a" stroke="#2a2a2a" stroke-width="0.18" transform="translate(467.90 330.60) scale(0.9 1)">56</text>
<text x="0" y="0" font-size="8.6" text-anchor="middle" dominant-baseline="central" fill="#2a2a2a" stroke="#2a2a2a" stroke-width="0.18" transform="translate(547.10 330.60) scale(0.9 1)">3,9</text>
<text x="0" y="0" font-size="8.6" text-anchor="middle" dominant-baseline="central" fill="#2a2a2a" stroke="#2a2a2a" stroke-width="0.18" transform="translate(294.25 343.41) scale(0.9 1)">1800</text>
<text x="0" y="0" font-size="8.6" text-anchor="middle" dominant-baseline="central" fill="#2a2a2a" stroke="#2a2a2a" stroke-width="0.18" transform="translate(380.05 343.41) scale(0.9 1)">30</text>
<text x="0" y="0" font-size="8.6" text-anchor="middle" dominant-baseline="central" fill="#2a2a2a" stroke="#2a2a2a" stroke-width="0.18" transform="translate(467.90 343.41) scale(0.9 1)">56</text>
<text x="0" y="0" font-size="8.6" text-anchor="middle" dominant-baseline="central" fill="#2a2a2a" stroke="#2a2a2a" stroke-width="0.18" transform="translate(547.10 343.41) scale(0.9 1)">4,3</text>
<text x="0" y="0" font-size="8.6" text-anchor="middle" dominant-baseline="central" fill="#2a2a2a" stroke="#2a2a2a" stroke-width="0.18" transform="translate(294.25 356.23) scale(0.9 1)">2000</text>
<text x="0" y="0" font-size="8.6" text-anchor="middle" dominant-baseline="central" fill="#2a2a2a" stroke="#2a2a2a" stroke-width="0.18" transform="translate(380.05 356.23) scale(0.9 1)">30</text>
<text x="0" y="0" font-size="8.6" text-anchor="middle" dominant-baseline="central" fill="#2a2a2a" stroke="#2a2a2a" stroke-width="0.18" transform="translate(467.90 356.23) scale(0.9 1)">56</text>
<text x="0" y="0" font-size="8.6" text-anchor="middle" dominant-baseline="central" fill="#2a2a2a" stroke="#2a2a2a" stroke-width="0.18" transform="translate(547.10 356.23) scale(0.9 1)">5</text>
<text x="0" y="0" font-size="8.6" text-anchor="middle" dominant-baseline="central" fill="#2a2a2a" stroke="#2a2a2a" stroke-width="0.18" transform="translate(294.25 369.04) scale(0.9 1)">2200</text>
<text x="0" y="0" font-size="8.6" text-anchor="middle" dominant-baseline="central" fill="#2a2a2a" stroke="#2a2a2a" stroke-width="0.18" transform="translate(380.05 369.04) scale(0.9 1)">30</text>
<text x="0" y="0" font-size="8.6" text-anchor="middle" dominant-baseline="central" fill="#2a2a2a" stroke="#2a2a2a" stroke-width="0.18" transform="translate(467.90 369.04) scale(0.9 1)">56</text>
<text x="0" y="0" font-size="8.6" text-anchor="middle" dominant-baseline="central" fill="#2a2a2a" stroke="#2a2a2a" stroke-width="0.18" transform="translate(547.10 369.04) scale(0.9 1)">5,4</text>
<text x="0" y="0" font-size="8.6" text-anchor="middle" dominant-baseline="central" fill="#2a2a2a" stroke="#2a2a2a" stroke-width="0.18" transform="translate(294.25 381.85) scale(0.9 1)">2400</text>
<text x="0" y="0" font-size="8.6" text-anchor="middle" dominant-baseline="central" fill="#2a2a2a" stroke="#2a2a2a" stroke-width="0.18" transform="translate(380.05 381.85) scale(0.9 1)">30</text>
<text x="0" y="0" font-size="8.6" text-anchor="middle" dominant-baseline="central" fill="#2a2a2a" stroke="#2a2a2a" stroke-width="0.18" transform="translate(467.90 381.85) scale(0.9 1)">56</text>
<text x="0" y="0" font-size="8.6" text-anchor="middle" dominant-baseline="central" fill="#2a2a2a" stroke="#2a2a2a" stroke-width="0.18" transform="translate(547.10 381.85) scale(0.9 1)">5,8</text>
<text x="0" y="0" font-size="8.6" text-anchor="middle" dominant-baseline="central" fill="#2a2a2a" stroke="#2a2a2a" stroke-width="0.18" transform="translate(294.25 394.67) scale(0.9 1)">2600</text>
<text x="0" y="0" font-size="8.6" text-anchor="middle" dominant-baseline="central" fill="#2a2a2a" stroke="#2a2a2a" stroke-width="0.18" transform="translate(380.05 394.67) scale(0.9 1)">30</text>
<text x="0" y="0" font-size="8.6" text-anchor="middle" dominant-baseline="central" fill="#2a2a2a" stroke="#2a2a2a" stroke-width="0.18" transform="translate(467.90 394.67) scale(0.9 1)">56</text>
<text x="0" y="0" font-size="8.6" text-anchor="middle" dominant-baseline="central" fill="#2a2a2a" stroke="#2a2a2a" stroke-width="0.18" transform="translate(547.10 394.67) scale(0.9 1)">6,1</text>
<text x="0" y="0" font-size="8.6" text-anchor="middle" dominant-baseline="central" fill="#2a2a2a" stroke="#2a2a2a" stroke-width="0.18" transform="translate(294.25 407.48) scale(0.9 1)">2800</text>
<text x="0" y="0" font-size="8.6" text-anchor="middle" dominant-baseline="central" fill="#2a2a2a" stroke="#2a2a2a" stroke-width="0.18" transform="translate(380.05 407.48) scale(0.9 1)">30</text>
<text x="0" y="0" font-size="8.6" text-anchor="middle" dominant-baseline="central" fill="#2a2a2a" stroke="#2a2a2a" stroke-width="0.18" transform="translate(467.90 407.48) scale(0.9 1)">56</text>
<text x="0" y="0" font-size="8.6" text-anchor="middle" dominant-baseline="central" fill="#2a2a2a" stroke="#2a2a2a" stroke-width="0.18" transform="translate(547.10 407.48) scale(0.9 1)">6,5</text>
<text x="0" y="0" font-size="8.6" text-anchor="middle" dominant-baseline="central" fill="#2a2a2a" stroke="#2a2a2a" stroke-width="0.18" transform="translate(294.25 420.29) scale(0.9 1)">3000</text>
<text x="0" y="0" font-size="8.6" text-anchor="middle" dominant-baseline="central" fill="#2a2a2a" stroke="#2a2a2a" stroke-width="0.18" transform="translate(380.05 420.29) scale(0.9 1)">30</text>
<text x="0" y="0" font-size="8.6" text-anchor="middle" dominant-baseline="central" fill="#2a2a2a" stroke="#2a2a2a" stroke-width="0.18" transform="translate(467.90 420.29) scale(0.9 1)">56</text>
<text x="0" y="0" font-size="8.6" text-anchor="middle" dominant-baseline="central" fill="#2a2a2a" stroke="#2a2a2a" stroke-width="0.18" transform="translate(547.10 420.29) scale(0.9 1)">6,9</text>
</g>
</svg>
</body></html>
